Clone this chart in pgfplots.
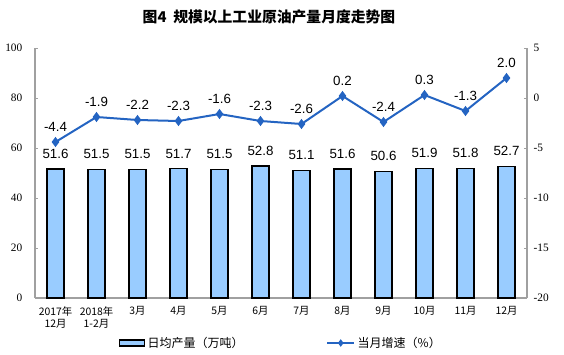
\documentclass[border=0pt]{standalone}
\usepackage{pgfplots}
\pgfplotsset{compat=1.18}
\usepackage{fontspec}
\setmainfont{Liberation Serif}
\newfontfamily\arial{Liberation Sans}
\newfontfamily\cjk{Noto Sans CJK SC}
\definecolor{barblue}{HTML}{99CCFF}
\definecolor{lineblue}{HTML}{2464C2}
\definecolor{axgray}{HTML}{A0A0A0}
\begin{document}
\begin{tikzpicture}
\path[use as bounding box] (0pt,0pt) rectangle (423pt,265.5pt);
\node[font=\cjk\bfseries\fontsize{11.1}{13}\selectfont] at (201.75pt,252.75pt) {图4\ \ 规模以上工业原油产量月度走势图};
\pgfplotsset{
  common/.style={
    at={(26.25pt,42pt)}, anchor=south west,
    width=369pt, height=187.5pt, scale only axis,
    xmin=-0.5, xmax=11.5,
    tick align=inside, major tick length=2.5pt,
    every tick/.style={axgray, line width=0.6pt},
    axis line style={axgray, line width=0.8pt},
    /pgf/number format/assume math mode=true,
    clip=false,
  }
}
\begin{axis}[common,
  axis y line*=left, axis x line*=bottom,
  ymin=0, ymax=100, ytick={0,20,...,100},
  yticklabel style={font=\fontsize{8.5}{9}\selectfont, xshift=-6pt},
  xtick={0,...,11},
  major x tick style={draw=none},
  extra x ticks={0.5,1.5,...,10.5},
  extra x tick labels={},
  extra x tick style={tick align=inside, major tick length=2.5pt, every tick/.style={axgray, line width=0.6pt}},
  xticklabels={{2017年\\12月},{2018年\\1-2月},3月,4月,5月,6月,7月,8月,9月,10月,11月,12月},
  xticklabel style={align=center, font=\cjk\fontsize{7.8}{9}\selectfont, anchor=north, yshift=-3pt},
]
\addplot[ybar, bar width=12.75pt, fill=barblue, draw=black, line width=0.9pt,
  point meta=explicit symbolic, nodes near coords,
  nodes near coords style={font=\arial\fontsize{10}{12}\selectfont, anchor=south, yshift=4pt, text=black}]
  coordinates {(0,51.6)[51.6] (1,51.5)[51.5] (2,51.5)[51.5] (3,51.7)[51.7] (4,51.5)[51.5] (5,52.8)[52.8]
               (6,51.1)[51.1] (7,51.6)[51.6] (8,50.6)[50.6] (9,51.9)[51.9] (10,51.8)[51.8] (11,52.7)[52.7]};
\end{axis}
\begin{axis}[common,
  axis y line*=right, axis x line=none,
  ymin=-20, ymax=5, ytick={-20,-15,...,5},
  yticklabels={-20,-15,-10,-5,0,5},
  yticklabel style={font=\fontsize{8.5}{9}\selectfont, xshift=1.5pt},
  legend columns=2,
  legend style={at={(0.5,-0.18)}, anchor=center, draw=none, fill=none,
    font=\cjk\fontsize{9}{10}\selectfont,
    /tikz/every even column/.append style={column sep=60pt}},
]
\addlegendimage{legend image code/.code={\draw[fill=barblue, draw=black, line width=0.9pt] (0pt,-2.25pt) rectangle (19pt,2.25pt);}}
\addlegendentry{日均产量（万吨）}
\addplot[lineblue, line width=1.5pt, mark=diamond*, mark size=2.6pt,
  mark options={fill=lineblue, draw=lineblue},
  legend image code/.code={\draw[lineblue, line width=1.5pt] (0pt,0pt) -- (20pt,0pt); \fill[lineblue] (10pt,0pt) ++(0,1.6pt) -- ++(1.2pt,-1.6pt) -- ++(-1.2pt,-1.6pt) -- ++(-1.2pt,1.6pt) -- cycle;},
  point meta=explicit symbolic, nodes near coords,
  nodes near coords style={font=\arial\fontsize{10}{12}\selectfont, anchor=south, yshift=4pt, text=black}]
  coordinates {(0,-4.4)[-4.4] (1,-1.9)[-1.9] (2,-2.2)[-2.2] (3,-2.3)[-2.3] (4,-1.6)[-1.6] (5,-2.3)[-2.3]
               (6,-2.6)[-2.6] (7,0.2)[0.2] (8,-2.4)[-2.4] (9,0.3)[0.3] (10,-1.3)[-1.3] (11,2.0)[2.0]};
\addlegendentry{当月增速（\%）}
\end{axis}
\end{tikzpicture}
\end{document}
